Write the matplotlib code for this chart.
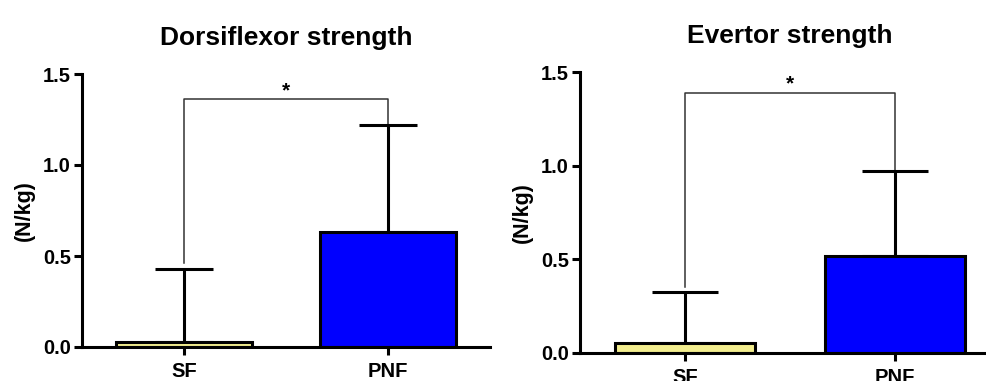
import matplotlib.pyplot as plt
import numpy as np

plt.rcParams['font.family'] = ['Liberation Sans', 'DejaVu Sans']
plt.rcParams['font.weight'] = 'bold'

groups = ['SF', 'PNF']
colors = ['#F3EE8E', '#0000FF']

titles = ['Dorsiflexor strength', 'Evertor strength']
means = [[0.03, 0.63], [0.055, 0.52]]
sds = [[0.40, 0.59], [0.27, 0.45]]
bracket_y = [1.36, 1.39]
bracket_left_end = [0.46, 0.35]
yticks = [0.0, 0.5, 1.0, 1.5]

fig = plt.figure(figsize=(9.87, 3.81), dpi=100)
W, H = 987, 381
# axes boxes in pixels: left, zero line, right, top
boxes = [(82, 347, 490, 74), (580, 353, 1000, 72)]
caps = [21, 24]

for i, (l, b, r, t) in enumerate(boxes):
    ax = fig.add_axes([l / W, (H - b) / H, (r - l) / W, (b - t) / H])
    x = np.arange(len(groups))
    ax.bar(x, means[i], width=0.67, color=colors, edgecolor='black', linewidth=2.2, zorder=2)
    ax.errorbar(x, means[i], yerr=[np.zeros(2), sds[i]], fmt='none',
                ecolor='black', elinewidth=2.2, capsize=caps[i], capthick=2.2, zorder=1)
    # significance bracket
    top1 = means[i][1] + sds[i][1]
    ax.plot([0, 0, 1, 1], [bracket_left_end[i], bracket_y[i], bracket_y[i], top1],
            color='#333333', linewidth=1.1, zorder=0)
    ax.text(0.5, bracket_y[i] - 0.005, '*', ha='center', va='bottom', fontsize=15)

    ax.set_xlim(-0.5, 1.5)
    ax.set_ylim(0, 1.5)
    ax.set_yticks(yticks)
    ax.set_yticklabels([f'{v:.1f}' for v in yticks])
    ax.set_xticks(x)
    ax.set_xticklabels(groups)
    ax.spines['top'].set_visible(False)
    ax.spines['right'].set_visible(False)
    ax.spines['left'].set_linewidth(2.2)
    ax.spines['bottom'].set_linewidth(2.2)
    ax.tick_params(axis='both', direction='out', length=6, width=2.2, labelsize=14.5, pad=2)
    ax.tick_params(axis='x', pad=5)
    ax.set_ylabel('(N/kg)', fontsize=15.5, fontweight='bold', labelpad=6)
    ax.set_title(titles[i], fontsize=19, fontweight='bold', pad=21)

fig.savefig('out.png', dpi=100)
